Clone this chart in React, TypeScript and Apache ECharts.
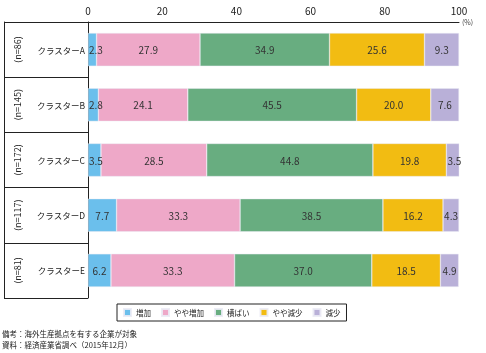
import React, { useEffect, useRef } from "react";
import * as echarts from "echarts";

const categories = ["クラスターA", "クラスターB", "クラスターC", "クラスターD", "クラスターE"];
const sampleSizes = ["(n=86)", "(n=145)", "(n=172)", "(n=117)", "(n=81)"];
const seriesNames = ["増加", "やや増加", "横ばい", "やや減少", "減少"];
const increase = [2.3, 2.8, 3.5, 7.7, 6.2];
const slightIncrease = [27.9, 24.1, 28.5, 33.3, 33.3];
const flat = [34.9, 45.5, 44.8, 38.5, 37.0];
const slightDecrease = [25.6, 20.0, 19.8, 16.2, 18.5];
const decrease = [9.3, 7.6, 3.5, 4.3, 4.9];
const xTicks = { min: 0, max: 100, interval: 20 };
const notes = ["備考：海外生産拠点を有する企業が対象", "資料：経済産業省調べ（2015年12月）"];

const colors = ["#6bbfec", "#eea8c8", "#68ad80", "#f2bc12", "#b9b0d8"];
const FONT = "'Noto Sans CJK JP', 'Noto Sans', sans-serif";

export default function App() {
  const ref = useRef<HTMLDivElement>(null);
  useEffect(() => {
    if (!ref.current) return;
    const chart = echarts.init(ref.current, undefined, { renderer: "svg" });
    const allSeries = [increase, slightIncrease, flat, slightDecrease, decrease];
    const option: any = {
      animation: false,
      textStyle: { fontFamily: FONT },
      grid: { left: 88, right: 27, top: 22, bottom: 55, containLabel: false },
      legend: {
        data: seriesNames,
        left: 117,
        top: 304,
        borderColor: "#222",
        borderWidth: 1,
        padding: [4, 6],
        itemWidth: 7,
        itemHeight: 7,
        itemGap: 10,
        icon: "rect",
        textStyle: { fontSize: 7.5, color: "#222", fontFamily: FONT },
      },
      xAxis: {
        type: "value",
        position: "top",
        min: xTicks.min,
        max: xTicks.max,
        interval: xTicks.interval,
        axisLine: { show: true, lineStyle: { color: "#222", width: 1 } },
        axisTick: { show: false },
        splitLine: { show: false },
        axisLabel: { fontSize: 10, color: "#222", margin: 7, fontFamily: FONT },
        name: "(%)",
        nameLocation: "end",
        nameGap: 3,
        nameTextStyle: { fontSize: 7, color: "#444", padding: [0, 0, 4, 0], fontFamily: FONT },
      },
      yAxis: [
        {
          type: "category",
          data: categories,
          inverse: true,
          position: "left",
          axisLine: { show: true, lineStyle: { color: "#222", width: 1 } },
          axisTick: { show: true, length: 84, interval: 0, lineStyle: { color: "#222", width: 1 } },
          axisLabel: { fontSize: 8.5, color: "#222", margin: 3, fontFamily: FONT },
        },
        {
          type: "category",
          data: sampleSizes,
          inverse: true,
          position: "left",
          offset: 84,
          axisLine: { show: true, lineStyle: { color: "#222", width: 1 } },
          axisTick: { show: false },
          axisLabel: { inside: true, rotate: 90, fontSize: 9, color: "#222", margin: 9, fontFamily: FONT },
        },
      ],
      series: seriesNames.map((name, si) => ({
        name,
        type: "bar",
        stack: "total",
        yAxisIndex: 0,
        barWidth: "60%",
        itemStyle: { color: colors[si], borderColor: "rgba(235,235,245,0.9)", borderWidth: 0.5 },
        data: allSeries[si].map((v) => ({
          value: v,
          label: v < 4 ? { position: "insideLeft", distance: 1 } : { position: "inside" },
        })),
        label: {
          show: true,
          fontSize: 10,
          color: "#333",
          fontFamily: FONT,
          formatter: (p: any) => Number(p.value).toFixed(1),
        },
      })),
      graphic: notes.map((t, i) => ({
        type: "text",
        left: 2,
        top: 330 + i * 11,
        style: { text: t, fontSize: 7.5, fill: "#222", fontFamily: FONT },
      })),
    };
    chart.setOption(option);
    return () => chart.dispose();
  }, []);
  return <div ref={ref} style={{ position: "fixed", left: 0, top: 0, width: 486, height: 353 }} />;
}
